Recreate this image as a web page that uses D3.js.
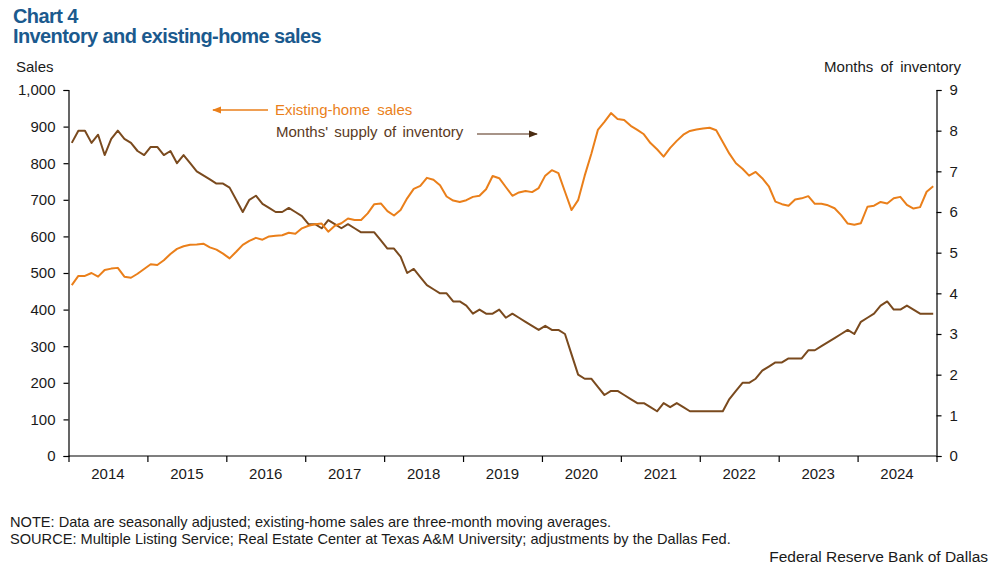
<!DOCTYPE html>
<html>
<head>
<meta charset="utf-8">
<script src="https://cdn.jsdelivr.net/npm/d3@7"></script>
<style>
  html, body { margin: 0; padding: 0; background: #fff; }
  svg { display: block; font-family: "Liberation Sans", Arial, sans-serif; }
</style>
</head>
<body>
<svg id="chart" width="997" height="565"></svg>
<script>
// ---- Data (monthly, Jan 2014 - Dec 2024) ----
const years = ["2014","2015","2016","2017","2018","2019","2020","2021","2022","2023","2024"];
const sales = [
  467,492,492,500,490,508,512,514,490,487,498,511,
  524,522,535,552,566,573,577,578,580,570,564,553,
  540,558,577,588,596,591,600,602,603,610,607,622,
  629,633,635,613,629,636,649,645,645,663,688,690,
  669,657,672,704,730,738,760,755,740,709,698,694,
  699,708,711,729,765,759,735,711,720,724,721,732,
  766,781,773,722,672,699,766,825,891,913,937,921,
  918,902,891,879,855,838,818,842,861,878,888,892,
  895,897,890,858,826,800,785,766,776,759,737,695,
  688,684,701,704,710,689,689,685,677,658,635,632,
  636,681,684,694,690,704,708,686,676,680,722,737
];
const inventory = [
  7.7,8.0,8.0,7.7,7.9,7.4,7.8,8.0,7.8,7.7,7.5,7.4,
  7.6,7.6,7.4,7.5,7.2,7.4,7.2,7.0,6.9,6.8,6.7,6.7,
  6.6,6.3,6.0,6.3,6.4,6.2,6.1,6.0,6.0,6.1,6.0,5.9,
  5.7,5.7,5.6,5.8,5.7,5.6,5.7,5.6,5.5,5.5,5.5,5.3,
  5.1,5.1,4.9,4.5,4.6,4.4,4.2,4.1,4.0,4.0,3.8,3.8,
  3.7,3.5,3.6,3.5,3.5,3.6,3.4,3.5,3.4,3.3,3.2,3.1,
  3.2,3.1,3.1,3.0,2.5,2.0,1.9,1.9,1.7,1.5,1.6,1.6,
  1.5,1.4,1.3,1.3,1.2,1.1,1.3,1.2,1.3,1.2,1.1,1.1,
  1.1,1.1,1.1,1.1,1.4,1.6,1.8,1.8,1.9,2.1,2.2,2.3,
  2.3,2.4,2.4,2.4,2.6,2.6,2.7,2.8,2.9,3.0,3.1,3.0,
  3.3,3.4,3.5,3.7,3.8,3.6,3.6,3.7,3.6,3.5,3.5,3.5
];
const leftTicks = [0,100,200,300,400,500,600,700,800,900,1000];
const rightTicks = [0,1,2,3,4,5,6,7,8,9];

// ---- Styles ----
const ORANGE = "#EA7F1A";
const BROWN = "#7A4A1E";
const TITLE = "#1B5A8E";
const TXT = "#1a1a1a";

const svg = d3.select("#chart");
const L = 68.5, R = 936.5, T = 90, B = 456;

const x = d3.scaleLinear().domain([0, sales.length]).range([L, R]);
const yL = d3.scaleLinear().domain([0, 1000]).range([B, T]);
const yR = d3.scaleLinear().domain([0, 9]).range([B, T]);

// Titles
svg.append("text").attr("x", 13).attr("y", 23).attr("fill", TITLE)
  .attr("font-size", 20).attr("font-weight", "bold").attr("letter-spacing", -0.6).text("Chart 4");
svg.append("text").attr("x", 13).attr("y", 43).attr("fill", TITLE)
  .attr("font-size", 20).attr("font-weight", "bold").attr("letter-spacing", -0.6).text("Inventory and existing-home sales");

svg.append("text").attr("x", 16).attr("y", 72).attr("fill", TXT).attr("font-size", 15).text("Sales");
svg.append("text").attr("x", 961).attr("y", 72).attr("fill", TXT).attr("font-size", 15)
  .attr("text-anchor", "end").attr("word-spacing", 3).text("Months of inventory");

// Left axis
const gL = svg.append("g").attr("transform", `translate(${L},0)`)
  .call(d3.axisLeft(yL).tickValues(leftTicks).tickSize(5).tickPadding(8).tickFormat(d3.format(",")));
// Right axis
const gR = svg.append("g").attr("transform", `translate(${R},0)`)
  .call(d3.axisRight(yR).tickValues(rightTicks).tickSize(5).tickPadding(8));
// Bottom axis: ticks at year boundaries
const yearBounds = d3.range(0, sales.length + 1, 12);
const gB = svg.append("g").attr("transform", `translate(0,${B})`)
  .call(d3.axisBottom(x).tickValues(yearBounds).tickSize(6).tickFormat(""));
[gL, gR, gB].forEach(g => {
  g.select(".domain").attr("stroke", "#000").attr("stroke-width", 1.2);
  g.selectAll(".tick line").attr("stroke", "#000").attr("stroke-width", 1.2);
  g.selectAll("text").attr("fill", TXT).attr("font-size", 15)
    .attr("font-family", "'Liberation Sans', Arial, sans-serif");
});
gB.select(".domain").attr("d", `M${L},0H${R}`);

// Year labels centered in each year band
svg.append("g").selectAll("text").data(years).join("text")
  .attr("x", (d, i) => x(i * 12 + 6)).attr("y", 479)
  .attr("text-anchor", "middle").attr("fill", TXT).attr("font-size", 15).text(d => d);

// Lines
const lineS = d3.line().x((d, i) => x(i + 0.5)).y(d => yL(d));
const lineI = d3.line().x((d, i) => x(i + 0.5)).y(d => yR(d));
svg.append("path").datum(inventory).attr("d", lineI).attr("fill", "none")
  .attr("stroke", BROWN).attr("stroke-width", 2).attr("stroke-linejoin", "round");
svg.append("path").datum(sales).attr("d", lineS).attr("fill", "none")
  .attr("stroke", ORANGE).attr("stroke-width", 2).attr("stroke-linejoin", "round");

// Legend annotations with arrows
const defs = svg.append("defs");
defs.append("marker").attr("id", "arrO").attr("viewBox", "0 0 10 10").attr("refX", 9).attr("refY", 5)
  .attr("markerWidth", 7).attr("markerHeight", 7).attr("orient", "auto")
  .append("path").attr("d", "M0,1L10,5L0,9Z").attr("fill", ORANGE);
defs.append("marker").attr("id", "arrB").attr("viewBox", "0 0 10 10").attr("refX", 9).attr("refY", 5)
  .attr("markerWidth", 7).attr("markerHeight", 7).attr("orient", "auto")
  .append("path").attr("d", "M0,1L10,5L0,9Z").attr("fill", "#4a2c12");

svg.append("line").attr("x1", 268).attr("y1", 110).attr("x2", 213).attr("y2", 110)
  .attr("stroke", ORANGE).attr("stroke-width", 1.3).attr("marker-end", "url(#arrO)");
svg.append("text").attr("x", 275).attr("y", 115).attr("fill", ORANGE).attr("font-size", 15)
  .attr("word-spacing", 3).text("Existing-home sales");

svg.append("text").attr("x", 276).attr("y", 137).attr("fill", "#5a3a1e").attr("font-size", 15)
  .attr("word-spacing", 2).text("Months' supply of inventory");
svg.append("line").attr("x1", 477).attr("y1", 134).attr("x2", 537).attr("y2", 134)
  .attr("stroke", "#8a7060").attr("stroke-width", 1.3).attr("marker-end", "url(#arrB)");

// Notes
svg.append("text").attr("x", 10).attr("y", 527).attr("fill", TXT).attr("font-size", 14.6)
  .text("NOTE: Data are seasonally adjusted; existing-home sales are three-month moving averages.");
svg.append("text").attr("x", 10).attr("y", 544).attr("fill", TXT).attr("font-size", 14.6)
  .text("SOURCE: Multiple Listing Service; Real Estate Center at Texas A&M University; adjustments by the Dallas Fed.");
svg.append("text").attr("x", 988).attr("y", 562).attr("fill", TXT).attr("font-size", 15.5)
  .attr("text-anchor", "end").text("Federal Reserve Bank of Dallas");
</script>
</body>
</html>
